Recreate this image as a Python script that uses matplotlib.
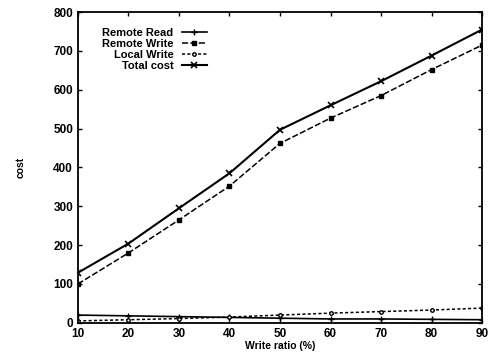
import matplotlib
matplotlib.use("Agg")
import matplotlib.pyplot as plt

plt.rcParams['font.family'] = ['Liberation Sans', 'DejaVu Sans']
plt.rcParams['font.weight'] = 'bold'

# ratio d'écriture (%)
write_ratio = [10, 20, 30, 40, 50, 60, 70, 80, 90]
remote_read = [20, 18, 16, 14, 12, 10, 10, 9, 8]
remote_write = [100, 180, 265, 352, 462, 527, 585, 652, 715]
local_write = [5, 8, 11, 15, 20, 25, 29, 33, 38]
total_cost = [129, 204, 295, 385, 497, 560, 622, 688, 755]

fig = plt.figure(figsize=(4.93, 3.54), dpi=100)
ax = fig.add_axes([0.158, 0.088, 0.820, 0.878])

ax.plot(write_ratio, remote_read, color='black', lw=1.2, marker='+', ms=4, mew=1.0, label='Remote Read')
ax.plot(write_ratio, remote_write, color='black', lw=1.1, ls=(0, (4, 1.5)), marker='s', ms=3.5, label='Remote Write')
ax.plot(write_ratio, local_write, color='black', lw=1.1, ls=(0, (2, 1.5)), marker='o', ms=2.5, mfc='white', label='Local Write')
ax.plot(write_ratio, total_cost, color='black', lw=1.5, marker='x', ms=4, mew=1.2, label='Total cost')

ax.set_xlim(10, 90)
ax.set_ylim(0, 800)
ax.set_xticks(write_ratio)
ax.set_yticks(range(0, 801, 100))
ax.tick_params(direction='in', length=3, width=1, top=True, right=True, labelsize=8.5)
for s in ax.spines.values():
    s.set_linewidth(1.3)

ax.set_xlabel('Write ratio (%)', fontsize=7.5, fontweight='bold', labelpad=1)
ax.set_ylabel('cost', fontsize=7.5, fontweight='bold', labelpad=20)

leg = ax.legend(loc='upper left', markerfirst=False, frameon=False, fontsize=8,
                handlelength=2.2, labelspacing=0.1, borderaxespad=0.3,
                bbox_to_anchor=(0.04, 0.975))

fig.savefig('out.png', dpi=100)
